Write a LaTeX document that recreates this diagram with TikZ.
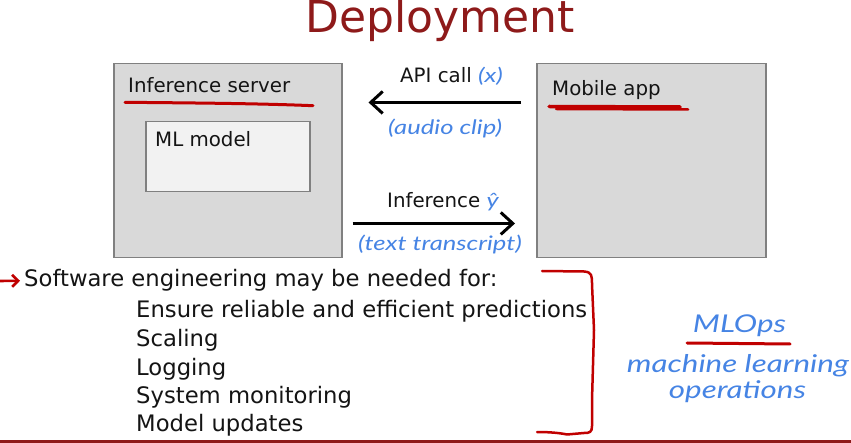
\documentclass[tikz,border=0pt]{standalone}
\usepackage{fontspec}
\setmainfont{DejaVu Sans}
\newfontfamily\handfont{Lato}[FakeStretch=1.28]
\usetikzlibrary{arrows.meta}
\definecolor{titlered}{RGB}{142,26,26}
\definecolor{pen}{RGB}{192,0,0}
\definecolor{ink}{RGB}{70,132,228}
\definecolor{boxgray}{RGB}{217,217,217}
\definecolor{modelgray}{RGB}{242,242,242}
\definecolor{edgegray}{RGB}{128,128,128}
\definecolor{bodytext}{RGB}{20,20,20}

\tikzset{
  body/.style={font=\fontsize{19.8}{23}\selectfont, text=bodytext, inner sep=0pt, anchor=base west},
  listtext/.style={body, font=\fontsize{22.7}{26}\selectfont},
  hand/.style={font=\handfont\itshape\fontsize{#1}{#1}\selectfont, text=ink, inner sep=0pt},
  hand/.default=20,
  panel/.style={draw=edgegray, fill=boxgray, line width=1.5pt, inner sep=0pt, anchor=north west},
  flow/.style={line width=3pt, -{Straight Barb[length=12pt,width=22pt]}},
  penline/.style={draw=pen, line width=3pt, line cap=round, line join=round},
}

\begin{document}
\begin{tikzpicture}[x=1pt,y=-1pt]
\useasboundingbox (0,0) rectangle (851,443);

% title
\node[font=\fontsize{44}{50}\selectfont, text=titlered, anchor=base, inner sep=0pt] (title) at (440,33) {Deployment};

% server and client boxes
\node[panel, minimum width=228pt, minimum height=194pt] (server) at (113,63) {};
\node[panel, fill=modelgray, minimum width=164pt, minimum height=70pt] (model) at (145,121) {};
\node[panel, minimum width=229pt, minimum height=194pt] (app) at (536,63) {};

\node[body] (serverlabel) at (128,92.5) {Inference server};
\node[body] (modellabel) at (155,146.5) {ML model};
\node[body] (applabel) at (552,96) {Mobile app};

% request and response
\draw[flow, shorten <=15pt, shorten >=26pt] ([yshift=58.3pt]app.west) -- ([yshift=58.3pt]server.east);
\draw[flow, shorten <=10pt, shorten >=21pt] ([yshift=-62.7pt]server.east) -- ([yshift=-62.7pt]app.west);

\node[body] (apilabel) at (400,83) {API call \textcolor{ink}{\handfont\itshape (x)}};
\node[hand, anchor=base west] (audiolabel) at (388,135) {(audio clip)};
\node[body] (inflabel) at (387,207.5) {Inference \textcolor{ink}{\handfont\itshape ŷ}};
\node[hand, anchor=base west] (textlabel) at (358,251) {(text transcript)};

% pen underlines
\draw[penline] (125,102.3) .. controls (200,103) and (260,103.5) .. (313,105.7);
\draw[penline, line width=3.5pt] (549,106.5) -- (680,107);
\draw[penline, line width=2.5pt] (556,109) -- (688,109.5);

% software engineering list
\node[listtext] (sw) at (24,287) {Software engineering may be needed for:};
\coordinate (arrowstart) at (0,281);
\draw[pen, line width=2.6pt, -{Straight Barb[length=6pt,width=12pt]}] (arrowstart) -- ([xshift=-4pt]sw.west);

\node[listtext] (i1) at (136,318) {Ensure reliable and efficient predictions};
\node[listtext] (i2) at (136,347) {Scaling};
\node[listtext] (i3) at (136,375) {Logging};
\node[listtext] (i4) at (136,403) {System monitoring};
\node[listtext] (i5) at (136,431.5) {Model updates};

% bracket
\draw[penline, line width=2.5pt] (542,271) -- (584,271.5)
  .. controls (592,272) and (592,276) .. (592,284) -- (594,330) -- (592,400) -- (592,426)
  .. controls (592,432) and (590,433) .. (584,433) -- (567,434.5)
  .. controls (560,433) and (550,432) .. (537,432);

% MLOps note
\node[hand=24.5, anchor=base] (mlops) at (739.5,333) {MLOps};
\draw[penline] (687,343) -- (790,344);
\node[hand=24.5, anchor=base] (ml) at (738,373) {machine learning};
\node[hand=24.5, anchor=base] (ops) at (737.5,398) {operations};

% footer rule
\draw[titlered, line width=3pt] (0,441.5) -- (851,441.5);
\end{tikzpicture}
\end{document}
